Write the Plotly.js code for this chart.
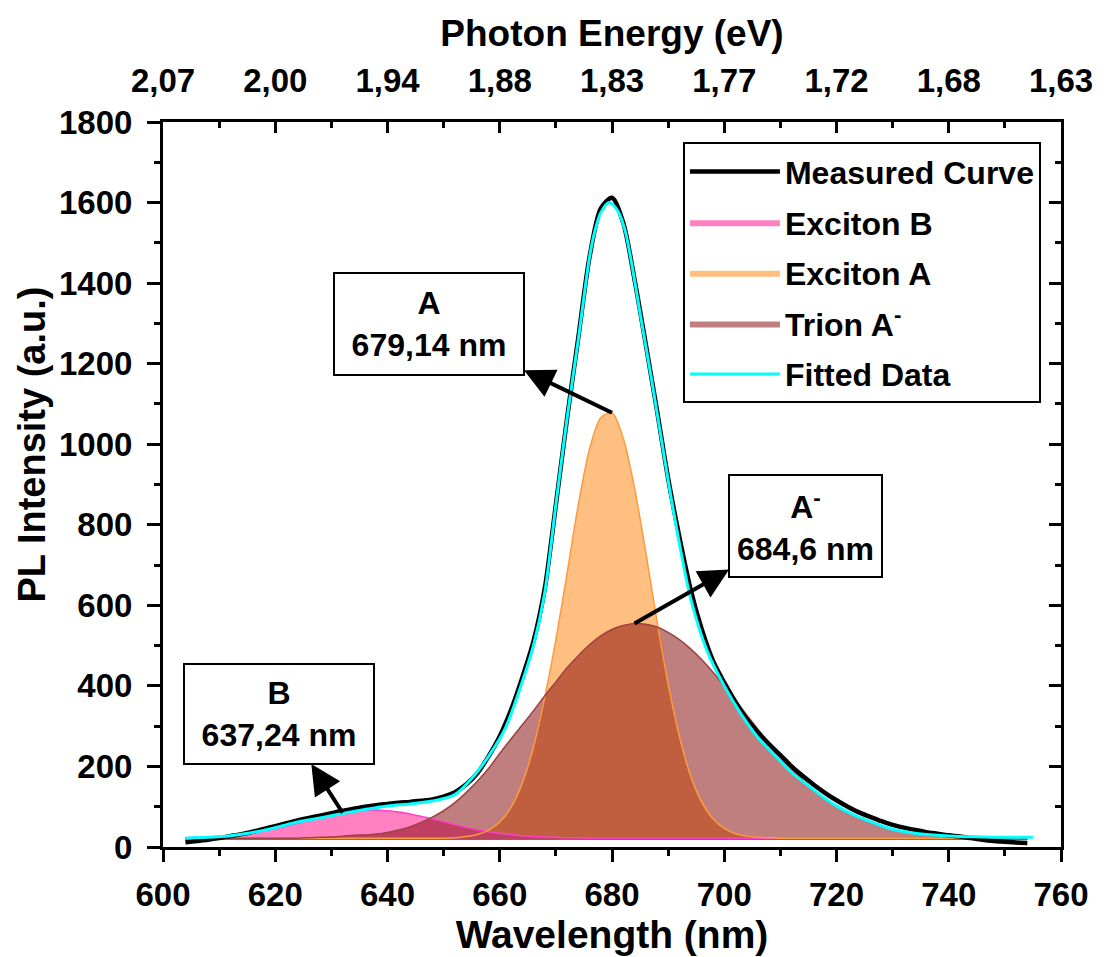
<!DOCTYPE html>
<html><head><meta charset="utf-8">
<script src="https://cdn.plot.ly/plotly-3.0.1.min.js"></script>
<style>html,body{margin:0;padding:0;background:#fff}#chart{width:1104px;height:957px}</style>
</head><body><div id="chart"></div>
<script>
// ---- data ----
const compWl = [604,606,608,610,612,614,616,618,620,622,624,626,628,630,632,634,636,638,640,642,644,646,648,650,652,654,656,658,660,662,664,666,668,670,672,674,676,678,680,682,684,686,688,690,692,694,696,698,700,702,704,706,708,710,712,714,716,718,720,722,724,726,728,730,732,734,736,738,740,742,744,746,748,750,752,754];
const excitonB = [23,24,25,27,29,32,36,41,46,52,59,66,73,80,85,89,91,92,90,87,82,76,70,63,56,49,43,38,34,31,28,26,25,24,23,23,
  22,22,22,22,22,22,22,22,22,22,22,22,22,22,22,22,22,22,22,22,22,22,22,22,22,22,22,22,22,22,22,22,22,22,22,22,22,22,22,22];
const excitonA = [22,22,22,22,22,22,22,22,22,22,22,22,22,22,22,22,22,22,22,22,22,22,22,
  22,23,26,31,42,62,98,158,247,370,515,680,850,988,1066,1078,1015,892,733,562,405,275,177,111,70,46,33,27,24,23,
  22,22,22,22,22,22,22,22,22,22,22,22,22,22,22,22,22,22,22,22,22,22,22];
const trionA = [22,22,22,22,22,22,22,22,22,22,22,
  23,24,25,27,29,30,32,36,42,50,61,74,90,110,135,163,195,232,268,303,338,375,410,445,475,502,524,540,550,555,
  553,546,533,515,492,465,434,400,364,328,292,258,225,195,166,140,118,100,86,73,62,52,45,39,35,31,28,27,25,24,23,
  22,22,22,22];
const measured = [12,15,18,22,27,32,38,45,52,59,66,72,78,84,90,95,100,104,107,110,112,115,118,125,136,155,183,225,275,340,
  420,510,640,850,1065,1265,1465,1585,1612,1550,1410,1250,1085,915,770,640,540,462,408,360,318,285,255,228,200,176,154,134,116,100,
  86,75,64,55,48,42,37,33,29,26,22,18,15,13,11,10];
const fittedWl = [604,608,612,616,620,624,628,632,636,640,644,648,652,655,658,661,664,666,668,670,672,674,676,677,678,679.5,681,682.3,683.5,685,687,689,691,694,697,700,703,706,709,712,715,718,721,724,727,730,734,738,742,746,750,755];
const fitted = [22,24,28,36,48,62,72,83,93,102,107,114,130,170,225,295,410,500,630,850,1065,1260,1465,1532,1575,1600,1580,1532,1449,1325,1165,995,830,618,485,400,330,272,228,185,152,120,94,74,58,44,34,29,26,25,24,24];
const baseLevel = 18;
const xTicks = [600,620,640,660,680,700,720,740,760];
const energyLabels = ['2,07','2,00','1,94','1,88','1,83','1,77','1,72','1,68','1,63'];
const seriesNames = ['Measured Curve','Exciton B','Exciton A','Trion A<sup>-</sup>','Fitted Data'];
const labelA = ['A','679,14 nm'];
const labelT = ['A<sup>-</sup>','684,6 nm'];
const labelB = ['B','637,24 nm'];

// ---- helpers ----
const FONT = '"Liberation Sans", Arial, Helvetica, sans-serif';
const baseArr = compWl.map(() => baseLevel);
function band(wl, top, bottom) {
  return { x: wl.concat(wl.slice().reverse()), y: top.concat(bottom.slice().reverse()) };
}
const ovAT = excitonA.map((v, i) => Math.min(v, trionA[i]));
const ovBT = excitonB.map((v, i) => Math.min(v, trionA[i]));
function fillTrace(top, color, name, rank, show) {
  const b = band(compWl, top, baseArr);
  return { x: b.x, y: b.y, type: 'scatter', mode: 'lines', fill: 'toself', fillcolor: color,
    line: { width: 0, shape: 'spline', smoothing: 0.8, color: color }, name: name, legendgroup: 'g' + rank,
    showlegend: show, legendrank: rank, hoverinfo: 'skip' };
}
function lineTrace(x, y, color, width, name, rank, show) {
  return { x: x, y: y, type: 'scatter', mode: 'lines', line: { color: color, width: width, shape: 'spline', smoothing: 0.8 },
    name: name, legendgroup: 'g' + rank, showlegend: show, legendrank: rank };
}
const argmax = arr => arr.indexOf(Math.max.apply(null, arr));
const iA = argmax(excitonA), iT = argmax(trionA);
const iB = compWl.indexOf(632);

const traces = [
  fillTrace(trionA, '#BF7F7F', seriesNames[3], 4, true),
  fillTrace(excitonB, '#FF80C0', seriesNames[1], 2, true),
  fillTrace(excitonA, '#FFBF80', seriesNames[2], 3, true),
  fillTrace(ovAT, '#BF5F40', 'overlapAT', 10, false),
  fillTrace(ovBT, '#BF4060', 'overlapBT', 11, false),
  lineTrace(compWl, excitonB, '#FF40C8', 1.5, 'B line', 13, false),
  lineTrace(compWl, excitonA, '#FF9A3C', 1.5, 'A line', 12, false),
  lineTrace(compWl, trionA, '#9E4040', 1.5, 'T line', 14, false),
  lineTrace(compWl, measured, '#000000', 4.5, seriesNames[0], 1, true),
  lineTrace(fittedWl, fitted, '#00FFFF', 3, seriesNames[4], 5, true),
  { x: [xTicks[0], xTicks[xTicks.length - 1]], y: [null, null], xaxis: 'x2', yaxis: 'y2', type: 'scatter', mode: 'lines', showlegend: false, hoverinfo: 'skip' }
];

const tickFont = { family: FONT, size: 33, color: '#000', weight: 'bold' };
const axCommon = { showline: true, linewidth: 3, linecolor: '#000', showgrid: false, zeroline: false, tickcolor: '#000', tickwidth: 3, tickfont: tickFont };

// label box with its arrow: arrow point on the peak (x,y), box centred at (bx,by), arrow head at the box
function box(px, py, bx, by, lines, w, h) {
  return { x: px, y: py, ax: bx, ay: by, xref: 'x', yref: 'y', axref: 'x', ayref: 'y', text: lines.join('<br>'),
    showarrow: true, arrowside: 'start', startarrowhead: 2, startarrowsize: 1.5, arrowhead: 2, arrowsize: 1.5,
    arrowwidth: 4, arrowcolor: '#000', standoff: 0, startstandoff: 0,
    font: { family: FONT, size: 32, color: '#000', weight: 'bold' }, bgcolor: '#fff', bordercolor: '#000', borderwidth: 2,
    borderpad: 0, width: w, height: h, align: 'center', valign: 'middle' };
}

const layout = {
  width: 1104, height: 957, margin: { l: 163, r: 43, t: 122, b: 110 },
  paper_bgcolor: '#fff', plot_bgcolor: '#fff', showlegend: true,
  xaxis: Object.assign({}, axCommon, { range: [600, 760], tickmode: 'linear', tick0: 600, dtick: 20, ticks: 'outside', ticklen: 12,
    ticklabelstandoff: 4,
    minor: { tickmode: 'linear', tick0: 600, dtick: 10, ticks: 'outside', ticklen: 6, tickwidth: 3, tickcolor: '#000', showgrid: false },
    title: { text: 'Wavelength (nm)', font: { family: FONT, size: 39, color: '#000', weight: 'bold' }, standoff: 10 } }),
  xaxis2: Object.assign({}, axCommon, { overlaying: 'x', side: 'top', anchor: 'y', range: [600, 760], tickmode: 'array',
    tickvals: xTicks, ticktext: energyLabels, ticks: 'inside', ticklen: 11, ticklabelstandoff: 14,
    minor: { tickmode: 'linear', tick0: 600, dtick: 10, ticks: 'inside', ticklen: 6, tickwidth: 3, tickcolor: '#000', showgrid: false },
    title: { text: 'Photon Energy (eV)', font: { family: FONT, size: 37, color: '#000', weight: 'bold' }, standoff: 4 } }),
  yaxis: Object.assign({}, axCommon, { range: [0, 1800], tickmode: 'linear', tick0: 0, dtick: 200, ticks: 'outside', ticklen: 13,
    ticklabelstandoff: 8,
    minor: { tickmode: 'linear', tick0: 0, dtick: 100, ticks: 'outside', ticklen: 6, tickwidth: 3, tickcolor: '#000', showgrid: false } }),
  yaxis2: Object.assign({}, axCommon, { overlaying: 'y', side: 'right', anchor: 'x', range: [0, 1800], tickmode: 'linear', tick0: 0, dtick: 200,
    ticks: 'inside', ticklen: 12, showticklabels: false,
    minor: { tickmode: 'linear', tick0: 0, dtick: 100, ticks: 'inside', ticklen: 6, tickwidth: 3, tickcolor: '#000', showgrid: false } }),
  legend: { x: 0.579, y: 0.972, xanchor: 'left', yanchor: 'top', bgcolor: '#fff', bordercolor: '#000', borderwidth: 2,
    font: { family: FONT, size: 32, color: '#000', weight: 'bold' }, itemwidth: 90, traceorder: 'grouped', tracegroupgap: 6 },
  annotations: [
    { x: -0.146, y: 0.555, xref: 'paper', yref: 'paper', text: 'PL Intensity (a.u.)', textangle: -90, showarrow: false,
      font: { family: FONT, size: 38, color: '#000', weight: 'bold' }, xanchor: 'center', yanchor: 'middle' },
    box(compWl[iA], excitonA[iA], 647.4, 1298, labelA, 188, 100),
    box(compWl[iT], trionA[iT], 714.5, 797, labelT, 151, 100),
    box(compWl[iB], excitonB[iB], 620.7, 330, labelB, 188, 98)
  ]
};

Plotly.newPlot('chart', traces, layout, { staticPlot: true, displayModeBar: false });
</script>
</body></html>
